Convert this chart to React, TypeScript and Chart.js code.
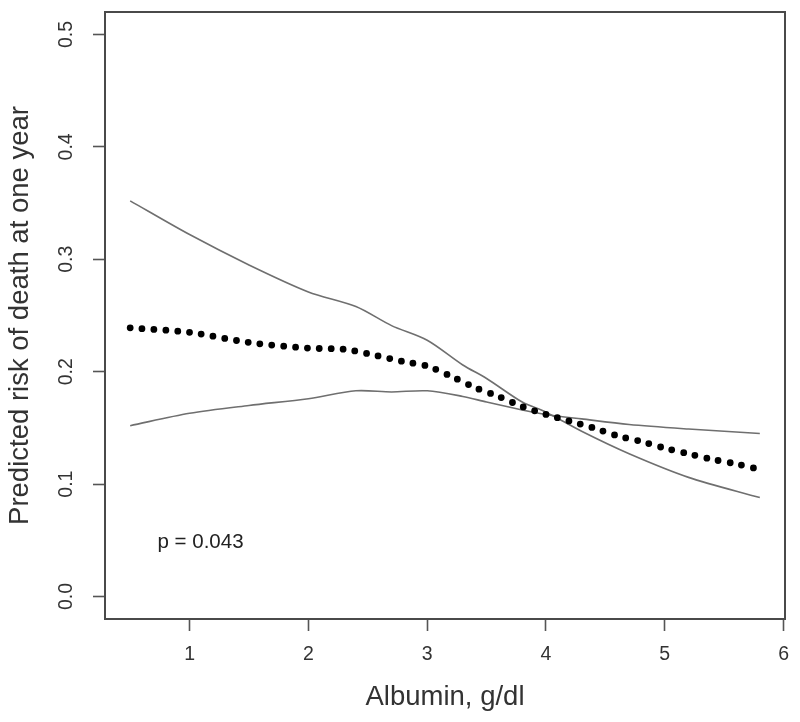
import { useEffect, useRef } from "react";
import { Chart, registerables } from "chart.js";

Chart.register(...registerables);

// Confidence band (upper / lower)
const bandAlbumin = [0.5, 1.0, 1.5, 2.0, 2.4, 2.7, 3.0, 3.3, 3.5, 3.8, 4.0, 4.3, 4.7, 5.2, 5.8];
const upperRisk = [0.352, 0.322, 0.295, 0.271, 0.258, 0.241, 0.228, 0.206, 0.194, 0.173, 0.164, 0.147, 0.127, 0.106, 0.088];
const lowerRisk = [0.152, 0.163, 0.170, 0.176, 0.183, 0.182, 0.183, 0.178, 0.173, 0.166, 0.162, 0.158, 0.153, 0.149, 0.145];

// Predicted risk (dotted curve)
const meanAlbumin = [0.5, 1.0, 1.5, 2.0, 2.3, 2.5, 2.8, 3.0, 3.2, 3.4, 3.6, 3.8, 4.0, 4.2, 4.4, 4.6, 4.8, 5.0, 5.2, 5.4, 5.6, 5.8];
const meanRisk = [0.239, 0.235, 0.226, 0.221, 0.220, 0.216, 0.209, 0.205, 0.196, 0.186, 0.178, 0.169, 0.162, 0.156, 0.150, 0.143, 0.138, 0.132, 0.127, 0.122, 0.118, 0.113];

const xTicks = [1, 2, 3, 4, 5, 6];
const xTickLabels = ["1", "2", "3", "4", "5", "6"];
const yTicks = [0, 0.1, 0.2, 0.3, 0.4, 0.5];
const yTickLabels = ["0.0", "0.1", "0.2", "0.3", "0.4", "0.5"];

const xTitle = "Albumin, g/dl";
const yTitle = "Predicted risk of death at one year";
const pText = "p = 0.043";
const pAt = { x: 0.73, y: 0.048 };

const FONT = "'Liberation Sans', Arial, Helvetica, sans-serif";

export default function App() {
  const ref = useRef<HTMLCanvasElement | null>(null);

  useEffect(() => {
    if (!ref.current) return;
    const axisPlugin = {
      id: "rAxes",
      afterDraw(chart: any) {
        const { ctx, chartArea } = chart;
        const xs = chart.scales.x;
        const ys = chart.scales.y;
        ctx.save();
        // box
        ctx.strokeStyle = "#4a4a4a";
        ctx.lineWidth = 2;
        ctx.strokeRect(chartArea.left, chartArea.top, chartArea.right - chartArea.left, chartArea.bottom - chartArea.top);
        ctx.fillStyle = "#333";
        ctx.font = `19.5px ${FONT}`;
        ctx.textAlign = "center";
        ctx.textBaseline = "middle";
        xTicks.forEach((v, i) => {
          ctx.fillText(xTickLabels[i], xs.getPixelForValue(v), chartArea.bottom + 36);
        });
        yTicks.forEach((v, i) => {
          ctx.save();
          ctx.translate(chartArea.left - 38, ys.getPixelForValue(v));
          ctx.rotate(-Math.PI / 2);
          ctx.fillText(yTickLabels[i], 0, 0);
          ctx.restore();
        });
        ctx.textAlign = "left";
        ctx.fillStyle = "#222";
        ctx.font = `20.5px ${FONT}`;
        ctx.fillText(pText, xs.getPixelForValue(pAt.x), ys.getPixelForValue(pAt.y));
        ctx.restore();
      },
    };

    const chart = new Chart(ref.current, {
      type: "line",
      data: {
        datasets: [
          {
            label: "Predicted risk",
            data: meanAlbumin.map((x, i) => ({ x, y: meanRisk[i] })),
            borderColor: "#000",
            borderWidth: 6.8,
            borderDash: [0, 11.9],
            borderCapStyle: "round",
            pointRadius: 0,
            tension: 0.3,
            fill: false,
          },
          {
            label: "Upper",
            data: bandAlbumin.map((x, i) => ({ x, y: upperRisk[i] })),
            borderColor: "#6f6f6f",
            borderWidth: 1.6,
            pointRadius: 0,
            tension: 0.3,
            fill: false,
          },
          {
            label: "Lower",
            data: bandAlbumin.map((x, i) => ({ x, y: lowerRisk[i] })),
            borderColor: "#6f6f6f",
            borderWidth: 1.6,
            pointRadius: 0,
            tension: 0.3,
            fill: false,
          },
        ],
      },
      options: {
        responsive: false,
        animation: false,
        layout: { padding: { top: 12, right: 15, left: 0, bottom: 0 } },
        plugins: { legend: { display: false }, tooltip: { enabled: false } },
        scales: {
          x: {
            type: "linear",
            min: 0.288,
            max: 6.012,
            afterBuildTicks: (s: any) => {
              s.ticks = xTicks.map((v) => ({ value: v }));
            },
            afterFit: (s: any) => {
              s.height = 103;
            },
            ticks: { display: false },
            grid: { drawOnChartArea: false, drawTicks: true, tickLength: 12, tickColor: "#555", tickWidth: 1.6 },
            border: { display: false },
            title: {
              display: true,
              text: xTitle,
              color: "#333",
              font: { family: FONT, size: 27.5 },
              padding: { top: 0, bottom: 8 },
            },
          },
          y: {
            type: "linear",
            min: -0.02,
            max: 0.52,
            afterBuildTicks: (s: any) => {
              s.ticks = yTicks.map((v) => ({ value: v }));
            },
            afterFit: (s: any) => {
              s.width = 105;
            },
            ticks: { display: false },
            grid: { drawOnChartArea: false, drawTicks: true, tickLength: 12, tickColor: "#555", tickWidth: 1.6 },
            border: { display: false },
            title: {
              display: true,
              text: yTitle,
              color: "#333",
              font: { family: FONT, size: 27.5 },
              padding: { top: 4, bottom: 0 },
            },
          },
        },
      },
      plugins: [axisPlugin],
    } as any);
    return () => chart.destroy();
  }, []);

  return (
    <div style={{ position: "absolute", left: 0, top: 0, width: 800, height: 722, background: "#fff" }}>
      <canvas ref={ref} width={800} height={722} style={{ display: "block" }} />
    </div>
  );
}
